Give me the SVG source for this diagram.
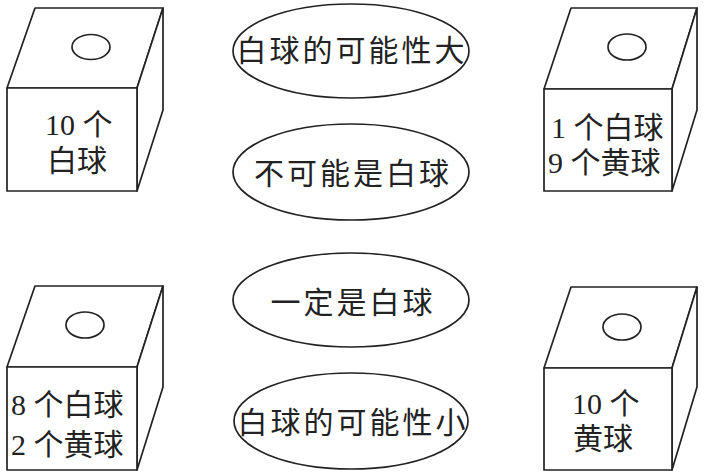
<svg xmlns="http://www.w3.org/2000/svg" width="706" height="474" viewBox="0 0 706 474">
<style>
.ln{fill:none;stroke:#222;stroke-width:1.7;stroke-linejoin:round}
.bx{fill:#fff;stroke:#222;stroke-width:1.7;stroke-linejoin:round}
.t{font-family:"Liberation Serif","Noto Sans CJK SC",serif;font-size:30px;fill:#222;dominant-baseline:central}
.e{font-family:"Liberation Serif","Noto Sans CJK SC",serif;font-size:30px;fill:#222;dominant-baseline:central;text-anchor:middle;letter-spacing:3px}
</style>
<rect width="706" height="474" fill="#fff"/>
<g id="box1">
<path class="bx" d="M7,88 L35,8 L163,8 L137,88 Z"/>
<path class="bx" d="M137,88 L163,8 L163,110 L137,191 Z"/>
<rect class="bx" x="7" y="88" width="130" height="103"/>
<ellipse class="ln" cx="91" cy="47" rx="19" ry="12.5"/>
<text class="t" x="45" y="124">10 个</text>
<text class="t" x="47" y="160">白球</text>
</g>
<g id="box2">
<path class="bx" d="M544,89 L571,8 L697,8 L672,89 Z"/>
<path class="bx" d="M672,89 L697,8 L697,110 L672,191 Z"/>
<rect class="bx" x="544" y="89" width="128" height="102"/>
<ellipse class="ln" cx="627" cy="47" rx="19" ry="13"/>
<text class="t" x="551" y="127">1 个白球</text>
<text class="t" x="548" y="162">9 个黄球</text>
</g>
<g id="box3">
<path class="bx" d="M7,367 L35,286 L163,286 L137,367 Z"/>
<path class="bx" d="M137,367 L163,286 L163,387 L137,470 Z"/>
<rect class="bx" x="7" y="367" width="130" height="103"/>
<ellipse class="ln" cx="85" cy="325" rx="19" ry="13"/>
<text class="t" x="11" y="404">8 个白球</text>
<text class="t" x="11" y="444">2 个黄球</text>
</g>
<g id="box4">
<path class="bx" d="M544,368 L571,287 L697,287 L672,368 Z"/>
<path class="bx" d="M672,368 L697,287 L697,387 L672,470 Z"/>
<rect class="bx" x="544" y="368" width="128" height="102"/>
<ellipse class="ln" cx="622" cy="327" rx="19" ry="13"/>
<text class="t" x="572" y="403">10 个</text>
<text class="t" x="573" y="438">黄球</text>
</g>
<g id="e1">
<ellipse class="ln" cx="351" cy="51" rx="118" ry="47"/>
<text class="e" x="352" y="50">白球的可能性大</text>
</g>
<g id="e2">
<ellipse class="ln" cx="351" cy="172" rx="118" ry="48"/>
<text class="e" x="353" y="173">不可能是白球</text>
</g>
<g id="e3">
<ellipse class="ln" cx="351" cy="300" rx="118" ry="47"/>
<text class="e" x="353" y="302">一定是白球</text>
</g>
<g id="e4">
<ellipse class="ln" cx="351" cy="421" rx="117" ry="48"/>
<text class="e" x="353" y="422">白球的可能性小</text>
</g>
<g id="connectors"></g>
</svg>
